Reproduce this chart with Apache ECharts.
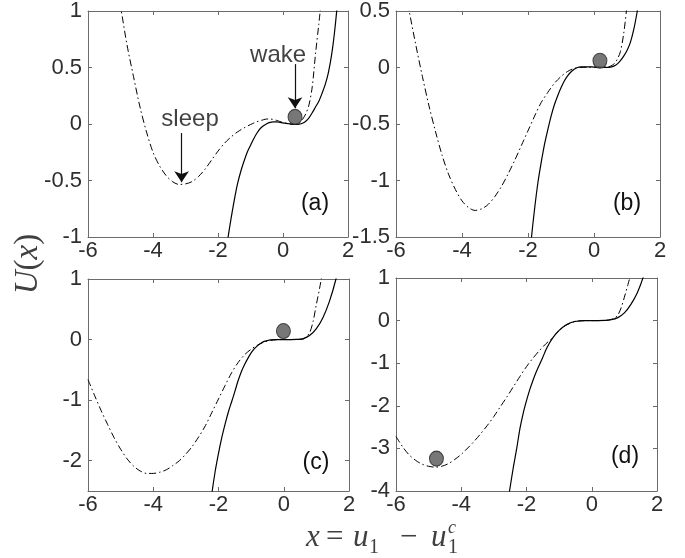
<!DOCTYPE html>
<html>
<head>
<meta charset="utf-8">
<script src="https://cdn.jsdelivr.net/npm/echarts@6/dist/echarts.min.js"></script>
<style>
  html, body { margin: 0; padding: 0; background: #fff; }
  #chart { width: 685px; height: 558px; }
</style>
</head>
<body>
<div id="chart"></div>
<script>
// [x, U(x)]
const solidA = [[-2.0,-1.72],[-1.9,-1.45],[-1.8,-1.22],[-1.7,-1.02],[-1.6,-0.84],[-1.5,-0.675],[-1.4,-0.53],[-1.3,-0.42],[-1.2,-0.33],[-1.1,-0.25],[-1.0,-0.19],[-0.9,-0.13],[-0.8,-0.08],[-0.7,-0.04],[-0.6,-0.015],[-0.5,0.003],[-0.4,0.014],[-0.3,0.018],[-0.2,0.018],[-0.1,0.015],[0.0,0.01],[0.1,0.006],[0.2,0.002],[0.3,-0.002],[0.4,-0.004],[0.5,-0.002],[0.6,0.006],[0.7,0.025],[0.8,0.055],[0.9,0.1],[1.0,0.15],[1.1,0.2],[1.2,0.27],[1.3,0.35],[1.4,0.46],[1.5,0.62],[1.6,0.85],[1.7,1.15],[1.8,1.5]];
const dashA = [[-5.2,1.33],[-5.0,1.04],[-4.8,0.7],[-4.6,0.42],[-4.4,0.15],[-4.2,-0.07],[-4.0,-0.25],[-3.8,-0.37],[-3.6,-0.455],[-3.4,-0.51],[-3.2,-0.535],[-3.0,-0.53],[-2.8,-0.51],[-2.6,-0.465],[-2.4,-0.4],[-2.2,-0.32],[-2.0,-0.24],[-1.8,-0.17],[-1.6,-0.115],[-1.4,-0.07],[-1.2,-0.035],[-1.0,-0.005],[-0.8,0.02],[-0.6,0.038],[-0.5,0.044],[-0.4,0.044],[-0.2,0.032],[0.0,0.013],[0.2,0.0],[0.4,-0.005],[0.5,0.005],[0.6,0.04],[0.7,0.09],[0.8,0.17],[0.9,0.33],[1.0,0.62],[1.1,0.88],[1.2,1.15]];

const solidB = [[-2.0,-1.85],[-1.9,-1.52],[-1.8,-1.25],[-1.7,-1.02],[-1.6,-0.84],[-1.5,-0.68],[-1.4,-0.55],[-1.3,-0.43],[-1.2,-0.33],[-1.1,-0.25],[-1.0,-0.18],[-0.9,-0.12],[-0.8,-0.075],[-0.7,-0.04],[-0.6,-0.015],[-0.5,0.0],[-0.4,0.005],[-0.2,0.006],[0.0,0.004],[0.2,0.002],[0.4,0.001],[0.5,0.004],[0.6,0.012],[0.7,0.03],[0.8,0.06],[0.9,0.1],[1.0,0.15],[1.1,0.22],[1.2,0.33],[1.3,0.48],[1.4,0.66],[1.5,0.9]];
const dashB = [[-5.8,0.82],[-5.6,0.5],[-5.4,0.2],[-5.2,-0.08],[-5.0,-0.34],[-4.8,-0.57],[-4.6,-0.78],[-4.4,-0.95],[-4.2,-1.08],[-4.0,-1.18],[-3.8,-1.24],[-3.6,-1.265],[-3.4,-1.25],[-3.2,-1.21],[-3.0,-1.14],[-2.8,-1.05],[-2.6,-0.94],[-2.4,-0.82],[-2.2,-0.69],[-2.0,-0.56],[-1.8,-0.43],[-1.6,-0.31],[-1.4,-0.22],[-1.2,-0.14],[-1.0,-0.08],[-0.8,-0.035],[-0.6,-0.008],[-0.4,0.0],[-0.2,0.002],[0.0,0.003],[0.2,0.003],[0.4,0.005],[0.5,0.012],[0.6,0.03],[0.7,0.07],[0.8,0.14],[0.9,0.3],[1.0,0.55],[1.1,0.85]];

const solidC = [[-2.4,-3.43],[-2.3,-3.0],[-2.2,-2.53],[-2.1,-2.17],[-2.0,-1.88],[-1.9,-1.62],[-1.8,-1.4],[-1.7,-1.2],[-1.6,-1.03],[-1.5,-0.86],[-1.4,-0.68],[-1.3,-0.53],[-1.2,-0.41],[-1.1,-0.31],[-1.0,-0.22],[-0.9,-0.15],[-0.8,-0.1],[-0.7,-0.06],[-0.6,-0.03],[-0.5,-0.015],[-0.4,-0.005],[-0.2,0.0],[0.0,0.0],[0.2,0.0],[0.4,0.002],[0.6,0.015],[0.8,0.07],[1.0,0.18],[1.2,0.36],[1.4,0.63],[1.6,1.0],[1.8,1.5]];
const dashC = [[-6.0,-0.66],[-5.8,-0.92],[-5.6,-1.17],[-5.4,-1.4],[-5.2,-1.62],[-5.0,-1.81],[-4.8,-1.97],[-4.6,-2.09],[-4.4,-2.17],[-4.2,-2.21],[-4.0,-2.21],[-3.8,-2.19],[-3.6,-2.15],[-3.4,-2.08],[-3.2,-2.0],[-3.0,-1.89],[-2.8,-1.76],[-2.6,-1.6],[-2.4,-1.42],[-2.2,-1.2],[-2.0,-0.98],[-1.8,-0.76],[-1.6,-0.55],[-1.4,-0.38],[-1.2,-0.25],[-1.0,-0.16],[-0.8,-0.09],[-0.6,-0.04],[-0.4,-0.015],[-0.2,0.0],[0.0,0.0],[0.2,0.0],[0.4,0.002],[0.6,0.01],[0.7,0.05],[0.8,0.12],[0.9,0.3],[1.0,0.58],[1.1,0.85],[1.2,1.15]];

const solidD = [[-2.7,-4.9],[-2.6,-4.4],[-2.5,-3.9],[-2.4,-3.43],[-2.3,-3.0],[-2.2,-2.53],[-2.1,-2.17],[-2.0,-1.88],[-1.9,-1.62],[-1.8,-1.4],[-1.7,-1.2],[-1.6,-1.03],[-1.5,-0.86],[-1.4,-0.68],[-1.3,-0.53],[-1.2,-0.41],[-1.1,-0.31],[-1.0,-0.23],[-0.9,-0.16],[-0.8,-0.11],[-0.7,-0.07],[-0.6,-0.04],[-0.5,-0.02],[-0.4,-0.01],[-0.2,0.0],[0.0,0.0],[0.2,0.0],[0.4,0.003],[0.6,0.02],[0.8,0.07],[1.0,0.18],[1.2,0.38],[1.4,0.66],[1.6,1.07],[1.8,1.6]];
const dashD = [[-6.0,-2.72],[-5.8,-2.96],[-5.6,-3.15],[-5.4,-3.28],[-5.2,-3.37],[-5.0,-3.42],[-4.8,-3.44],[-4.6,-3.42],[-4.4,-3.36],[-4.2,-3.26],[-4.0,-3.14],[-3.8,-2.99],[-3.6,-2.83],[-3.4,-2.65],[-3.2,-2.46],[-3.0,-2.25],[-2.8,-2.02],[-2.6,-1.79],[-2.4,-1.55],[-2.2,-1.31],[-2.0,-1.08],[-1.8,-0.88],[-1.6,-0.7],[-1.4,-0.54],[-1.2,-0.4],[-1.0,-0.23],[-0.8,-0.11],[-0.6,-0.04],[-0.4,-0.01],[-0.2,0.0],[0.0,0.0],[0.2,0.0],[0.4,0.005],[0.6,0.03],[0.7,0.06],[0.8,0.13],[0.9,0.3],[1.0,0.55],[1.1,0.82],[1.2,1.1]];

// ball position in each panel
const balls = [[0.37,0.063],[0.18,0.06],[-0.01,0.14],[-4.76,-3.24]];

// annotations of panel (a)
const notes = [{name:'sleep', value:[-2.86,0.04]},{name:'wake', value:[-0.15,0.61]}];
const arrows = [[[-3.12,-0.08],[-3.12,-0.515]],[[0.37,0.53],[0.37,0.14]]];

const xTicks = {min:-6, max:2, interval:2};
const yTicks = [
  {min:-1, max:1, interval:0.5},
  {min:-1.5, max:0.5, interval:0.5},
  {min:-2.5, max:1, values:[-2,-1,0,1]},
  {min:-4, max:1, interval:1}
];
const panelNames = ['(a)','(b)','(c)','(d)'];

const grids = [
  {left:88, top:10, width:260, height:227},
  {left:396, top:10, width:264, height:227},
  {left:88, top:279, width:261, height:212},
  {left:396, top:278, width:261, height:213}
];

const axisColor = '#6b6b6b';
const sans = 'Liberation Sans, Arial, Helvetica, sans-serif';
const serif = 'Liberation Serif, Times New Roman, serif';

function baseAxis(extra) {
  return Object.assign({
    type: 'value',
    axisLine: {show: true, onZero: false, lineStyle: {color: axisColor, width: 1}},
    axisTick: {show: true, inside: true, length: 4, lineStyle: {color: axisColor}},
    splitLine: {show: false}
  }, extra);
}

let xAxis = [], yAxis = [], series = [];
grids.forEach(function (g, i) {
  let lab = {fontFamily: sans, fontSize: 22, color: '#2e2e2e'};
  xAxis.push(baseAxis({gridIndex: i, position: 'bottom', min: xTicks.min, max: xTicks.max, interval: xTicks.interval,
    axisLabel: Object.assign({margin: 3}, lab)}));
  xAxis.push(baseAxis({gridIndex: i, position: 'top', min: xTicks.min, max: xTicks.max, interval: xTicks.interval,
    axisLabel: {show: false}}));

  let yt = yTicks[i];
  let left = baseAxis({gridIndex: i, position: 'left', min: yt.min, max: yt.max,
    axisLabel: Object.assign({margin: 6}, lab)});
  let right = baseAxis({gridIndex: i, position: 'right', min: yt.min, max: yt.max, axisLabel: {show: false}});
  if (yt.values) {
    left.axisLabel.customValues = yt.values;
    left.axisTick = Object.assign({}, left.axisTick, {customValues: yt.values});
    right.axisTick = Object.assign({}, right.axisTick, {customValues: yt.values});
  } else {
    left.interval = yt.interval;
    right.interval = yt.interval;
  }
  yAxis.push(left, right);
});

const solids = [solidA, solidB, solidC, solidD];
const dashes = [dashA, dashB, dashC, dashD];

for (let i = 0; i < 4; i++) {
  series.push({
    type: 'line', name: 'solid' + i, xAxisIndex: 2 * i, yAxisIndex: 2 * i,
    data: solids[i], showSymbol: false, smooth: 0.3, clip: true,
    lineStyle: {color: '#000', width: 1.2}
  });
  series.push({
    type: 'line', name: 'dash' + i, xAxisIndex: 2 * i, yAxisIndex: 2 * i,
    data: dashes[i], showSymbol: false, smooth: 0.3, clip: true,
    lineStyle: {color: '#000', width: 1, type: [7, 3, 1.5, 3]}
  });
  series.push({
    type: 'scatter', xAxisIndex: 2 * i, yAxisIndex: 2 * i, z: 5,
    data: [balls[i]], symbol: 'circle', symbolSize: [14, 15],
    itemStyle: {color: '#555555', borderColor: '#262626', borderWidth: 1}
  });
}

// text + arrows in panel (a)
series.push({
  type: 'scatter', xAxisIndex: 0, yAxisIndex: 0, symbolSize: 0, z: 6,
  data: notes,
  label: {show: true, position: 'inside', formatter: '{b}', fontFamily: sans, fontSize: 24, color: '#111'},
  markLine: {
    silent: true, symbol: ['none', 'arrow'], symbolSize: 11,
    label: {show: false},
    lineStyle: {color: '#111', width: 1.2, type: 'solid'},
    data: arrows.map(function (a) { return [{coord: a[0]}, {coord: a[1]}]; })
  }
});

let graphic = [];
const labelPos = [[315, 204], [627, 204], [316, 463], [625, 457]];
panelNames.forEach(function (t, i) {
  graphic.push({type: 'text', x: labelPos[i][0], y: labelPos[i][1],
    style: {text: t, font: '23px ' + sans, fill: '#111', align: 'center', verticalAlign: 'middle'}});
});

// y axis title U(x)
graphic.push({
  type: 'text', x: 28, y: 264, rotation: Math.PI / 2,
  style: {
    text: '{i|U}{n|(}{i|x}{n|)}', align: 'center', verticalAlign: 'middle',
    rich: {
      i: {fontFamily: serif, fontStyle: 'italic', fontSize: 33, fill: '#404040'},
      n: {fontFamily: serif, fontSize: 33, fill: '#404040'}
    }
  }
});

// x axis title x = u_1 - u_1^c
const xt = [
  ['x', 306, 538, 31, 'italic'],
  ['=', 326, 538, 31, 'normal'],
  ['u', 353, 538, 31, 'italic'],
  ['1', 369, 548, 20, 'normal'],
  ['\u2212', 400, 538, 31, 'normal'],
  ['u', 431, 538, 31, 'italic'],
  ['c', 448, 528, 18, 'italic'],
  ['1', 448, 548, 20, 'normal']
];
xt.forEach(function (p) {
  graphic.push({type: 'text', x: p[1], y: p[2],
    style: {text: p[0], font: p[4] + ' ' + p[3] + 'px ' + serif, fill: '#404040', align: 'left', verticalAlign: 'middle'}});
});

const chart = echarts.init(document.getElementById('chart'));
chart.setOption({
  animation: false,
  backgroundColor: '#fff',
  grid: grids,
  xAxis: xAxis,
  yAxis: yAxis,
  series: series,
  graphic: graphic
});
</script>
</body>
</html>
